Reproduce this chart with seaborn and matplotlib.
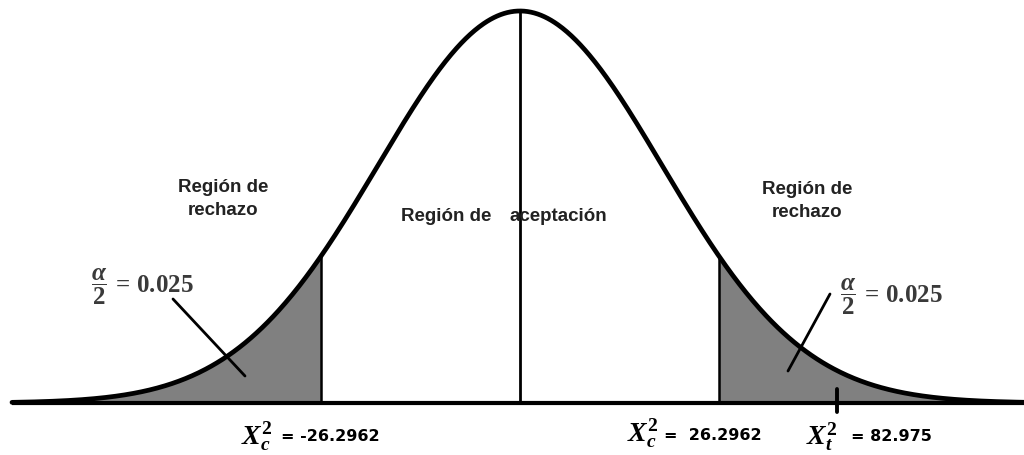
import numpy as np
import seaborn as sns
import matplotlib.pyplot as plt

# data (z units, schematic normal curve)
mu = 0.0
sigma = 1.0
crit_z = 1.40          # position of the critical values on the drawing
test_z = 2.23          # position of the test statistic tick
crit_lo_label = "-26.2962"
crit_hi_label = "26.2962"
test_label = "82.975"
alpha_half = "0.025"
region_reject = "Región de\nrechazo"
region_accept_left = "Región de"
region_accept_right = "aceptación"

sns.set_theme(style="white")
plt.rcParams["font.family"] = ["Liberation Sans", "DejaVu Sans"]
plt.rcParams["mathtext.fontset"] = "custom"
plt.rcParams["mathtext.rm"] = "Liberation Serif:bold"
plt.rcParams["mathtext.it"] = "Liberation Serif:italic:bold"
plt.rcParams["mathtext.bf"] = "Liberation Serif:bold"

fig = plt.figure(figsize=(10.24, 4.56), dpi=100)
ax = fig.add_axes([0, 0, 1, 1])

# pixel -> data helpers (layout of labels only)
X0, PXS = 520, 142.0
Y0, PYS = 404, 392 / 0.39894
def px(x):
    return (x - X0) / PXS
def py(y):
    return (Y0 - y) / PYS

ax.set_xlim(px(0), px(1024))
ax.set_ylim(py(456), py(0))

def pdf_at(v):
    return np.exp(-0.5 * ((v - mu) / sigma) ** 2) / (sigma * np.sqrt(2 * np.pi))

xs = np.linspace(px(12), px(1024), 900)
pdf = pdf_at(xs)

# shaded tails
lo = xs <= -crit_z
hi = xs >= crit_z
ax.fill_between(xs[lo], 0, pdf[lo], color="#808080", lw=0)
ax.fill_between(xs[hi], 0, pdf[hi], color="#808080", lw=0)

sns.lineplot(x=xs, y=pdf, color="black", lw=3.4, ax=ax)
ax.plot([px(12), px(1024)], [0, 0], color="black", lw=3.0, solid_capstyle="butt")

ax.plot([mu, mu], [0, pdf_at(mu)], color="black", lw=2.0)
ax.plot([-crit_z, -crit_z], [0, pdf_at(-crit_z)], color="black", lw=1.8)
ax.plot([crit_z, crit_z], [0, pdf_at(crit_z)], color="black", lw=1.8)
ax.plot([test_z, test_z], [py(390), py(413)], color="black", lw=2.8)

# region texts
txt = dict(fontsize=13.5, fontweight="bold", color="#222222")
ax.text(px(223), py(199), region_reject, ha="center", va="center", linespacing=1.45, **txt)
ax.text(px(807), py(201), region_reject, ha="center", va="center", linespacing=1.45, **txt)
ax.text(px(491), py(217), region_accept_left, ha="right", va="center", **txt)
ax.text(px(510), py(217), region_accept_right, ha="left", va="center", **txt)

# alpha/2 labels with leader lines
alab = r"$\dfrac{\alpha}{2}\,=\,\mathrm{" + alpha_half + "}$"
ax.text(px(91), py(287), alab, ha="left", va="center", fontsize=18, color="#3a3a3a")
ax.text(px(840), py(297), alab, ha="left", va="center", fontsize=18, color="#3a3a3a")
ax.plot([px(173), px(245)], [py(300), py(377)], color="black", lw=2)
ax.plot([px(830), px(788)], [py(295), py(372)], color="black", lw=2)

# bottom labels
num = dict(fontsize=11.5, fontweight="bold", color="black", family="DejaVu Sans")
ax.text(px(241), py(437), r"$X_c^2$", ha="left", va="center", fontsize=20, color="black")
ax.text(px(281), py(437), "= " + crit_lo_label, ha="left", va="center", **num)
ax.text(px(627), py(434), r"$X_c^2$", ha="left", va="center", fontsize=20, color="black")
ax.text(px(664), py(436), "=  " + crit_hi_label, ha="left", va="center", **num)
ax.text(px(806), py(437), r"$X_t^2$", ha="left", va="center", fontsize=20, color="black")
ax.text(px(851), py(437), "= " + test_label, ha="left", va="center", **num)

ax.set_axis_off()
fig.savefig("out.png", dpi=100)
